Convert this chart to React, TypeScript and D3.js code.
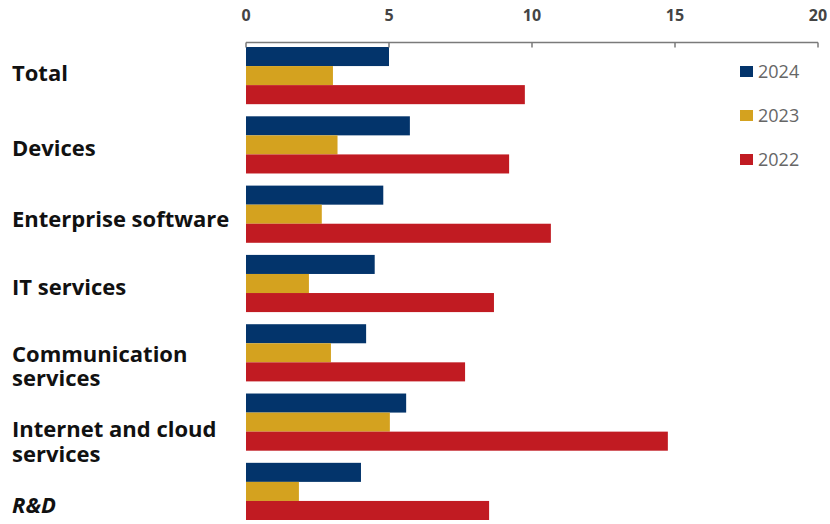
import React from "react";
import * as d3 from "d3";

const categories = [
  "Total",
  "Devices",
  "Enterprise software",
  "IT services",
  "Communication services",
  "Internet and cloud services",
  "R&D",
];
const labelLines = [
  ["Total"],
  ["Devices"],
  ["Enterprise software"],
  ["IT services"],
  ["Communication", "services"],
  ["Internet and cloud", "services"],
  ["R&D"],
];
const series = ["2024", "2023", "2022"];
const values2024 = [5.0, 5.73, 4.8, 4.5, 4.2, 5.6, 4.02];
const values2023 = [3.04, 3.2, 2.65, 2.2, 2.97, 5.03, 1.85];
const values2022 = [9.75, 9.2, 10.66, 8.67, 7.66, 14.75, 8.5];
const ticks = [0, 5, 10, 15, 20];

const colors: Record<string, string> = {
  "2024": "#03346b",
  "2023": "#d4a21f",
  "2022": "#c11b22",
};

export default function App() {
  const W = 830;
  const H = 524;
  const x = d3.scaleLinear().domain([0, 20]).range([246, 818]);
  const y = d3
    .scaleBand<string>()
    .domain(categories)
    .range([47, 520])
    .paddingInner(0.175)
    .paddingOuter(0);
  const ys = d3.scaleBand<string>().domain(series).range([0, y.bandwidth()]);
  const data: Record<string, number[]> = {
    "2024": values2024,
    "2023": values2023,
    "2022": values2022,
  };
  const axisY = 42.5;
  const labelOffsets = [5.5, 11.5, 12.5, 11.5, 9.5, 14.5, 21.5];
  const lineHeights = [24, 24, 24, 24, 23.5, 25, 24];

  return (
    <div style={{ position: "fixed", left: 0, top: 0 }}>
      <svg width={W} height={H} style={{ display: "block", background: "#fff" }}>
        {categories.map((c, i) => (
          <g key={c} transform={`translate(0,${y(c)})`}>
            {series.map((s) => (
              <rect
                key={s}
                x={x(0)}
                y={ys(s)}
                width={x(data[s][i]) - x(0)}
                height={ys.bandwidth()}
                fill={colors[s]}
              />
            ))}
          </g>
        ))}
        <line x1={x(0)} x2={x(20)} y1={axisY} y2={axisY} stroke="#7a7a7a" strokeWidth={1.5} />
        {ticks.map((t) => (
          <g key={t}>
            <line x1={x(t)} x2={x(t)} y1={axisY} y2={axisY + 5} stroke="#7a7a7a" strokeWidth={1.5} />
            <text
              x={x(t)}
              y={21}
              textAnchor="middle"
              fontFamily="Open Sans, sans-serif"
              fontWeight={700}
              fontSize={16}
              fill="#444"
            >
              {t}
            </text>
          </g>
        ))}
        {categories.map((c, i) => {
          const lines = labelLines[i];
          const base = (y(c) as number) + y.bandwidth() / 2 + labelOffsets[i];
          return (
            <text
              key={c}
              x={12}
              fontFamily="Open Sans, sans-serif"
              fontWeight={700}
              fontSize={22}
              fontStyle={c === "R&D" ? "italic" : "normal"}
              fill="#111"
            >
              {lines.map((l, j) => (
                <tspan key={j} x={12} y={base + j * lineHeights[i]}>
                  {l}
                </tspan>
              ))}
            </text>
          );
        })}
        {series.map((s, i) => (
          <g key={s} transform={`translate(740,${66 + i * 44})`}>
            <rect x={0} y={0} width={13} height={11} fill={colors[s]} />
            <text
              x={18}
              y={11.5}
              fontFamily="Open Sans, sans-serif"
              fontSize={18}
              fill="#666"
            >
              {s}
            </text>
          </g>
        ))}
      </svg>
    </div>
  );
}
